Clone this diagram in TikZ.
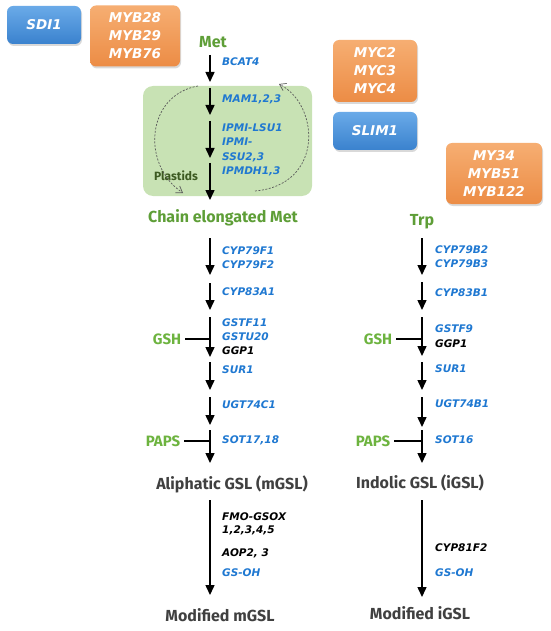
\documentclass[tikz,border=0pt]{standalone}
\usepackage{fontspec}
\setmainfont{Fira Sans}
\newfontfamily\genefont{DejaVu Sans}
\usetikzlibrary{arrows.meta,shadows,calc}
\definecolor{lblue}{HTML}{1F78D1}
\definecolor{metgreen}{HTML}{5E9E37}
\definecolor{gshgreen}{HTML}{6DB33F}
\definecolor{darkgreen}{HTML}{3D5A22}
\definecolor{boxgreen}{HTML}{C8E2B4}
\definecolor{txtgray}{HTML}{404040}
\definecolor{cycgray}{HTML}{5A5A5A}
\definecolor{orangeT}{HTML}{F6AE72}
\definecolor{orangeB}{HTML}{EC8C45}
\definecolor{blueT}{HTML}{6AAAE8}
\definecolor{blueB}{HTML}{3A82CE}
\tikzset{
  tfbox/.style={rounded corners=6pt, inner sep=0pt, text=white, align=center,
    font=\genefont\bfseries\itshape\fontsize{13.5}{18}\selectfont,
    drop shadow={opacity=0.3, shadow xshift=1pt, shadow yshift=-2pt}},
  orangebox/.style={tfbox, top color=orangeT, bottom color=orangeB},
  bluebox/.style={tfbox, top color=blueT, bottom color=blueB},
  gene/.style={anchor=west, inner sep=0pt, text=lblue, align=left,
    font=\genefont\bfseries\itshape\fontsize{10.5}{14.5}\selectfont},
  blk/.style={gene, text=black},
  flow/.style={line width=1.5pt, -{Triangle[length=10pt,width=9pt]}},
  feed/.style={line width=1.2pt},
  metab/.style={inner sep=0pt, text=metgreen, font=\bfseries\fontsize{16}{18}\selectfont},
  cofac/.style={inner sep=0pt, text=gshgreen, font=\bfseries\fontsize{15}{18}\selectfont},
  product/.style={inner sep=0pt, text=txtgray, font=\bfseries\fontsize{16}{18}\selectfont},
  cyc/.style={cycgray, line width=0.7pt, dash pattern=on 2pt off 1.5pt,
    -{Straight Barb[length=6pt,width=8pt]}},
}
\begin{document}
\begin{tikzpicture}[x=1pt,y=1pt]
\useasboundingbox (0,0) rectangle (550,-631);

% transcription factor boxes
\node[bluebox, minimum width=74pt, minimum height=38pt] (sdi) at (44,-25) {SDI1};
\node[orangebox, minimum width=90pt, minimum height=61pt] (myb28) at (135,-36) {MYB28\\MYB29\\MYB76};
\node[orangebox, minimum width=84pt, minimum height=62pt] (myc) at (375,-71) {MYC2\\MYC3\\MYC4};
\node[bluebox, minimum width=84pt, minimum height=38pt] (slim) at (375,-131) {SLIM1};
\node[orangebox, minimum width=96pt, minimum height=61pt] (my34) at (494,-173.5) {MY34\\MYB51\\MYB122};

% plastid box
\node[fill=boxgreen, rounded corners=10pt, minimum width=169pt, minimum height=110pt, inner sep=0pt] (plastid) at (227.5,-141) {};
\node[inner sep=0pt, text=darkgreen, font=\bfseries\fontsize{12}{14}\selectfont] (plt) at (176,-176) {Plastids};

% cycle arrows
\coordinate (cl1) at (198,-86);
\coordinate (cl2) at (183,-193);
\coordinate (cr1) at (255,-191);
\coordinate (cr2) at (279,-84);
\draw[cyc] (cl1) .. controls (146,-95) and (141,-165) .. (cl2);
\draw[cyc] (cr1) .. controls (324,-185) and (320,-105) .. (cr2);

% metabolites
\node[metab] (met) at (213,-42) {Met};
\node[metab] (chain) at (223,-218) {Chain elongated Met};
\node[metab] (trp) at (422,-222) {Trp};
\node[product] (ali) at (232,-484) {Aliphatic GSL (mGSL)};
\node[product] (ind) at (420,-483) {Indolic GSL (iGSL)};
\node[product] (modm) at (220,-615) {Modified mGSL};
\node[product] (modi) at (420,-613) {Modified iGSL};

% left pathway arrows
\foreach \n/\a/\b in {1/55/82, 2/88/115, 3/121/158, 4/163/200, 5/238/275, 6/283/310,
  7/317/357, 8/362/390, 9/397/425, 10/430/463, 11/500/595}{
  \coordinate (Ls\n) at (210,-\a);
  \coordinate (Le\n) at (210,-\b);
  \draw[flow] (Ls\n) -- (Le\n);
}
% right pathway arrows
\foreach \n/\a/\b in {1/238/275, 2/282/310, 3/317/356, 4/362/390, 5/397/427,
  6/430/463, 7/500/597}{
  \coordinate (Rs\n) at (422,-\a);
  \coordinate (Re\n) at (422,-\b);
  \draw[flow] (Rs\n) -- (Re\n);
}

% cofactors
\node[cofac] (gshL) at (167,-339) {GSH};
\node[cofac] (papsL) at (163,-441) {PAPS};
\node[cofac] (gshR) at (378,-339) {GSH};
\node[cofac] (papsR) at (373,-441) {PAPS};
\coordinate (jgL) at (210,-338);
\coordinate (jpL) at (210,-442);
\coordinate (jgR) at (422,-338);
\coordinate (jpR) at (422,-442);
\draw[feed] ($(gshL.east)+(4,0)$) -- (gshL.east -| jgL);
\draw[feed] ($(papsL.east)+(4,0)$) -- (papsL.east -| jpL);
\draw[feed] ($(gshR.east)+(4,0)$) -- (gshR.east -| jgR);
\draw[feed] ($(papsR.east)+(4,0)$) -- (papsR.east -| jpR);

% left gene labels
\node[gene] (bcat) at (222,-62) {BCAT4};
\node[gene] (mam) at (222,-99) {MAM1,2,3};
\node[gene] (ipmi) at (222,-150) {IPMI-LSU1\\IPMI-\\SSU2,3\\IPMDH1,3};
\node[gene, font=\genefont\bfseries\itshape\fontsize{10.5}{13.5}\selectfont] (cypf) at (222,-257.5) {CYP79F1\\CYP79F2};
\node[gene] (cypa) at (222,-292) {CYP83A1};
\node[gene, font=\genefont\bfseries\itshape\fontsize{10.5}{14}\selectfont] (gstL) at (222,-337) {GSTF11\\GSTU20\\\textcolor{black}{GGP1}};
\node[gene] (surL) at (222,-370) {SUR1};
\node[gene] (ugtc) at (222,-405) {UGT74C1};
\node[gene] (sotL) at (222,-440) {SOT17,18};
\node[blk, font=\genefont\bfseries\itshape\fontsize{10.5}{13}\selectfont] (fmo) at (222,-523.5) {FMO-GSOX\\1,2,3,4,5};
\node[blk] (aop) at (222,-553) {AOP2, 3};
\node[gene] (gsohL) at (222,-573) {GS-OH};

% right gene labels
\node[gene, font=\genefont\bfseries\itshape\fontsize{10.5}{14}\selectfont] (cypb) at (435,-257) {CYP79B2\\CYP79B3};
\node[gene] (cypbb) at (435,-293) {CYP83B1};
\node[gene, font=\genefont\bfseries\itshape\fontsize{10.5}{15}\selectfont] (gstR) at (435,-336.5) {GSTF9\\\textcolor{black}{GGP1}};
\node[gene] (surR) at (435,-369) {SUR1};
\node[gene] (ugtb) at (435,-404) {UGT74B1};
\node[gene] (sotR) at (435,-440) {SOT16};
\node[blk] (cyp81) at (435,-548) {CYP81F2};
\node[gene] (gsohR) at (435,-573) {GS-OH};
\end{tikzpicture}
\end{document}
